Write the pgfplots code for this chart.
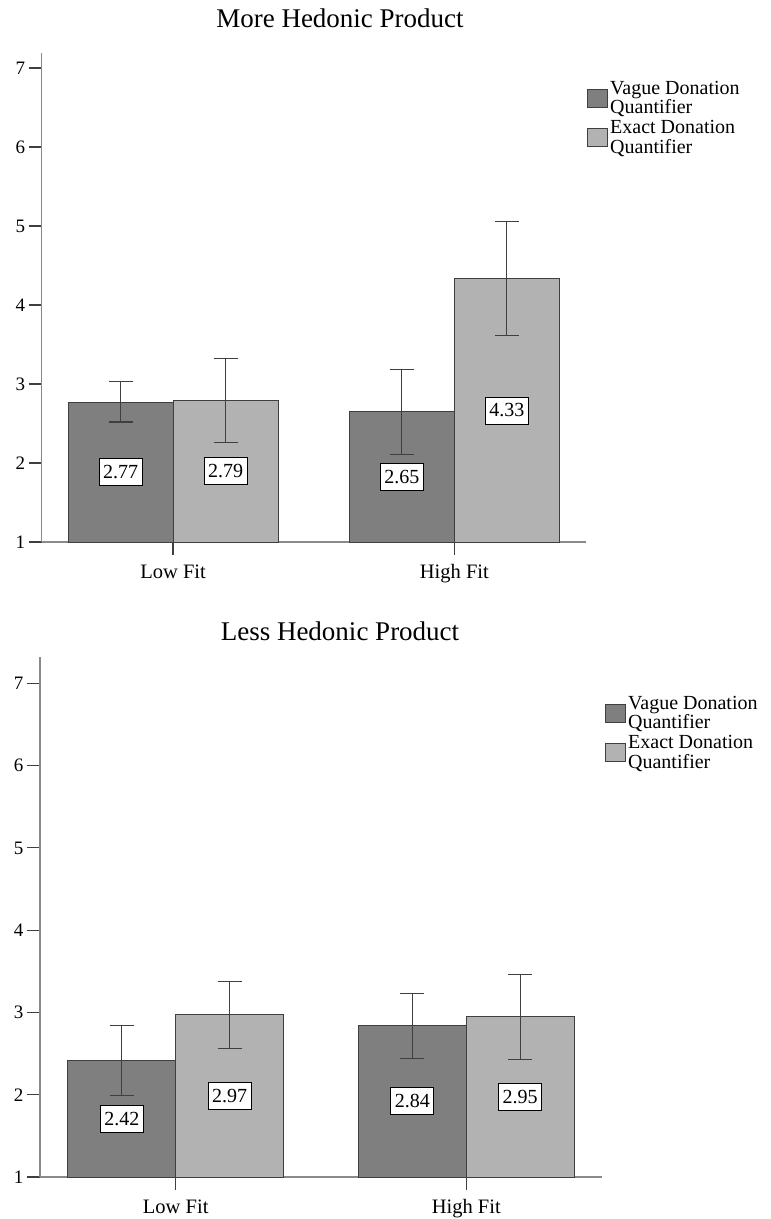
\documentclass[border=0pt]{standalone}
\usepackage{fontspec}
\setmainfont{Liberation Serif}
\usepackage{pgfplots}
\pgfplotsset{compat=1.18}
\definecolor{darkbar}{HTML}{7F7F7F}
\definecolor{lightbar}{HTML}{B2B2B2}
\definecolor{edge}{HTML}{3F3F3F}
\definecolor{axisgray}{HTML}{8A8A8A}
\pgfplotsset{
  panel/.style={
    scale only axis, anchor=south west,
    axis x line*=bottom, axis y line*=left,
    axis line style={axisgray, line width=1.2pt},
    ymin=1, xmin=-0.467, xmax=1.467,
    ytick={1,2,3,4,5,6,7}, xtick={0,1}, xticklabels={Low Fit, High Fit},
    tick align=outside, major tick length=13pt,
    tick style={edge, line width=1.2pt},
    yticklabel style={font=\fontsize{19}{19}\selectfont},
    xticklabel style={font=\fontsize{20.5}{20.5}\selectfont, yshift=-6pt},
    /pgf/number format/assume math mode=true,
    legend style={draw=none, fill=none, anchor=north west, inner sep=0pt,
      font=\fontsize{20}{19.5}\selectfont, row sep=1pt,
      cells={anchor=west, align=left}},
    legend cell align=left,
  },
  barA/.style={ybar, bar width=#1, bar shift=0pt, fill=darkbar, draw=edge, line width=1pt,
    area legend,
    legend image code/.code={\draw[fill=darkbar, draw=edge, line width=1pt] (0pt,-9pt) rectangle (20pt,9pt);},
    error bars/.cd, y dir=both, y explicit,
    error bar style={edge, line width=1.2pt},
    error mark options={rotate=90, edge, line width=1.2pt, mark size=12pt}},
  barB/.style={ybar, bar width=#1, bar shift=0pt, fill=lightbar, draw=edge, line width=1pt,
    area legend,
    legend image code/.code={\draw[fill=lightbar, draw=edge, line width=1pt] (0pt,-9pt) rectangle (20pt,9pt);},
    error bars/.cd, y dir=both, y explicit,
    error bar style={edge, line width=1.2pt},
    error mark options={rotate=90, edge, line width=1.2pt, mark size=12pt}},
  lab/.style={draw=none, mark=none, forget plot, nodes near coords, point meta=explicit symbolic,
    every node near coord/.append style={anchor=center, draw=black, fill=white,
      line width=0.8pt, inner xsep=4pt, inner ysep=0pt, minimum height=27pt,
      font=\fontsize{20}{20}\selectfont, text=black}},
}
\begin{document}
\begin{tikzpicture}
\path[use as bounding box] (0,0) rectangle (771pt,-1219pt);
\node[font=\fontsize{27}{27}\selectfont] at (340pt,-18pt) {More Hedonic Product};
\node[font=\fontsize{27}{27}\selectfont] at (340pt,-631pt) {Less Hedonic Product};

% Top panel (bar centres: Low Fit at 0, High Fit at 1, offset by half a bar)
\begin{axis}[panel, at={(41.7pt,-542pt)}, width=544pt, height=489pt, ymax=7.19,
  legend style={at={(1.0024,0.947)}}]
\addplot[barA=105pt] coordinates {(-0.1866,2.77) += (0,0.26) -= (0,0.25) (0.8134,2.65) += (0,0.53) -= (0,0.54)};
\addlegendentry{Vague Donation\\Quantifier}
\addplot[barB=105pt] coordinates {(0.1866,2.79) += (0,0.53) -= (0,0.53) (1.1866,4.33) += (0,0.73) -= (0,0.72)};
\addlegendentry{Exact Donation\\Quantifier}
\addplot[lab] coordinates {(-0.1866,1.885)[2.77] (0.8134,1.825)[2.65]};
\addplot[lab] coordinates {(0.1866,1.895)[2.79] (1.1866,2.665)[4.33]};
\end{axis}

% Bottom panel
\begin{axis}[panel, at={(40pt,-1177pt)}, width=562pt, height=520pt, ymax=7.32,
  legend style={at={(1.0053,0.929)}}]
\addplot[barA=108pt] coordinates {(-0.1856,2.42) += (0,0.42) -= (0,0.43) (0.8144,2.84) += (0,0.39) -= (0,0.40)};
\addlegendentry{Vague Donation\\Quantifier}
\addplot[barB=108pt] coordinates {(0.1856,2.97) += (0,0.41) -= (0,0.41) (1.1856,2.95) += (0,0.51) -= (0,0.52)};
\addlegendentry{Exact Donation\\Quantifier}
\addplot[lab] coordinates {(-0.1856,1.71)[2.42] (0.8144,1.92)[2.84]};
\addplot[lab] coordinates {(0.1856,1.985)[2.97] (1.1856,1.975)[2.95]};
\end{axis}
\end{tikzpicture}
\end{document}
